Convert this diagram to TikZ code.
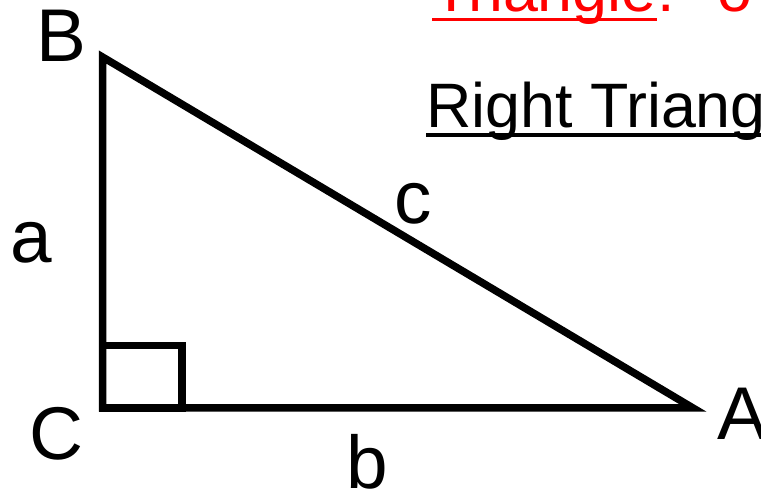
\documentclass[tikz,border=0pt]{standalone}
\usepackage{fontspec}
\setmainfont{Liberation Sans}
\usepackage{xcolor}

\begin{document}
\begin{tikzpicture}[x=1bp,y=1bp,
  letter/.style={inner sep=0pt, anchor=base west, font=\fontsize{75}{80}\selectfont},
  heading/.style={inner sep=0pt, anchor=base west, font=\fontsize{63}{70}\selectfont}]

% Define dimensions
\def\linew{7.5bp}
\def\boxw{79.5}
\def\boxh{62.5}

\useasboundingbox (0,0) rectangle (761,493);
\clip (0,0) rectangle (761,493);

% Corners of the triangle
\coordinate (c) at (102.5,85);
\coordinate (b) at (102.5,436);
\coordinate (a) at (693,85);

% Draw the triangle and the right angle mark
\draw[line width=\linew, miter limit=20] (c) -- (b) -- (a) -- cycle;
\draw[line width=\linew] (c) rectangle ++(\boxw,\boxh);

% Label corners and sides
\node[letter] (B) at (36.5,431) {B};
\node[letter] (C) at (29,33) {C};
\node[letter] (A) at (717,53) {A};
\node[letter] (sidea) at (10,230) {a};
\node[letter] (sideb) at (346,4) {b};
\node[letter] (sidec) at (394,269) {c};

% Headings on the right, cut by the frame
\node[heading, text=red] (title) at (432,481) {Triangle};
\node[heading, text=red] (colon) at (title.base east) {:};
\draw[red, line width=3bp] ([yshift=-8bp]title.base west) -- ([yshift=-8bp]title.base east);
\node[heading, text=red] (rest) at (717,481) {o};

\node[heading] (right) at (426,365) {Right Triangle};
\draw[line width=4bp] ([yshift=-7bp]right.base west) -- ([yshift=-7bp]right.base east);
\end{tikzpicture}
\end{document}
